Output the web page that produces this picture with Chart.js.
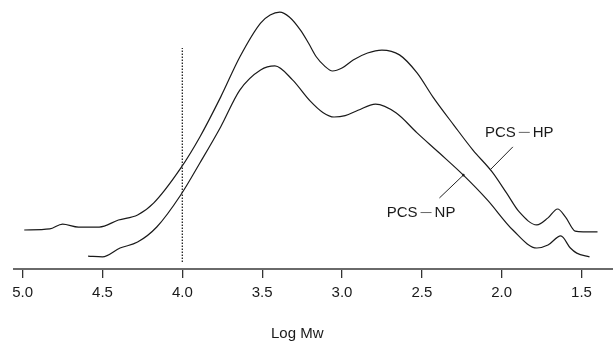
<!DOCTYPE html>
<html lang="en">
<head>
  <meta charset="UTF-8">
  <title>Log Mw distribution</title>
  <script src="https://cdn.jsdelivr.net/npm/chart.js"></script>
  <style>
    * { box-sizing: border-box; }
    body { margin: 0; background: #fff; font-family: "Liberation Sans", Arial, sans-serif; }
    .wrap { position: relative; width: 613px; height: 341px; }
  </style>
</head>
<body>
  <div class="wrap"><canvas id="chart"></canvas></div>

  <script>
    // Log Mw positions and detector response (arbitrary units, 0-100)
    const hpLogMw = [4.99, 4.83, 4.75, 4.65, 4.52, 4.40, 4.28, 4.18, 4.01, 3.89, 3.76, 3.64, 3.51, 3.45, 3.39, 3.33, 3.26, 3.21, 3.16, 3.11, 3.06, 3.00, 2.93, 2.84, 2.75, 2.64, 2.53, 2.43, 2.30, 2.18, 2.06, 1.97, 1.89, 1.78, 1.71, 1.65, 1.60, 1.54, 1.49, 1.40];
    const hpSignal = [14.5, 14.9, 16.7, 15.6, 15.6, 18.2, 20.1, 24.5, 37.5, 49.1, 63.9, 78.8, 91.4, 94.4, 95.5, 93.7, 88.8, 84.0, 78.8, 75.5, 73.6, 74.7, 77.7, 80.3, 81.4, 79.6, 72.9, 63.9, 53.5, 44.2, 36.1, 28.3, 21.2, 16.4, 19.0, 22.3, 19.3, 14.1, 13.8, 13.8];

    const npLogMw = [4.59, 4.50, 4.39, 4.28, 4.16, 4.01, 3.89, 3.76, 3.64, 3.51, 3.42, 3.31, 3.20, 3.12, 3.05, 2.98, 2.90, 2.79, 2.66, 2.53, 2.39, 2.24, 2.09, 1.93, 1.78, 1.71, 1.63, 1.57, 1.53, 1.45];
    const npSignal = [4.8, 4.5, 7.8, 10.0, 15.6, 27.5, 39.4, 52.8, 66.5, 74.0, 75.5, 70.3, 62.5, 58.2, 56.5, 57.0, 59.0, 61.3, 58.0, 50.6, 43.1, 34.9, 25.7, 14.5, 7.8, 8.9, 12.3, 7.8, 5.9, 4.5];

    const cutoffLogMw = 4.0;
    const cutoffRange = [2.6, 82.2];

    const xTicks = [5.0, 4.5, 4.0, 3.5, 3.0, 2.5, 2.0, 1.5];
    const xTitle = 'Log Mw';
    const seriesNames = ['PCS', 'HP', 'NP'];

    // callouts: text anchor and leader line, in data units
    const callouts = [
      { left: seriesNames[0], right: seriesNames[1], x: 2.105, y: 50.6, from: [1.93, 45.4], to: [2.07, 37.0] },
      { left: seriesNames[0], right: seriesNames[2], x: 2.72, y: 20.8, from: [2.39, 26.4], to: [2.24, 34.9], dot: true }
    ];

    const FONT = '"Liberation Sans", Arial, sans-serif';
    const toPts = (xs, ys) => xs.map((x, i) => ({ x, y: ys[i] }));

    const calloutPlugin = {
      id: 'callouts',
      afterDatasetsDraw(chart) {
        const { ctx, chartArea, scales: { x, y } } = chart;
        ctx.save();
        ctx.font = '15px ' + FONT;
        ctx.textBaseline = 'middle';
        ctx.fillStyle = '#1a1a1a';
        callouts.forEach(c => {
          // leader line
          ctx.strokeStyle = '#222';
          ctx.lineWidth = 1;
          ctx.beginPath();
          ctx.moveTo(x.getPixelForValue(c.from[0]), y.getPixelForValue(c.from[1]));
          ctx.lineTo(x.getPixelForValue(c.to[0]), y.getPixelForValue(c.to[1]));
          ctx.stroke();
          if (c.dot) {
            ctx.beginPath();
            ctx.arc(x.getPixelForValue(c.to[0]), y.getPixelForValue(c.to[1]), 1.3, 0, Math.PI * 2);
            ctx.fill();
          }
          // text: PCS - XX with a thin dash
          let px = x.getPixelForValue(c.x);
          const py = y.getPixelForValue(c.y);
          ctx.textAlign = 'left';
          ctx.fillText(c.left, px, py);
          px += ctx.measureText(c.left).width + 3;
          ctx.strokeStyle = '#666';
          ctx.beginPath();
          ctx.moveTo(px, py - 0.5);
          ctx.lineTo(px + 11, py - 0.5);
          ctx.stroke();
          px += 14;
          ctx.fillText(c.right, px, py);
        });
        // axis title, sits a bit left of the axis centre
        ctx.textAlign = 'center';
        ctx.textBaseline = 'alphabetic';
        ctx.fillText(xTitle, x.getPixelForValue(3.28), chartArea.bottom + 69);
        ctx.restore();
      }
    };

    new Chart(document.getElementById('chart'), {
      type: 'line',
      data: {
        datasets: [
          { label: 'PCS-HP', data: toPts(hpLogMw, hpSignal), borderColor: '#1a1a1a', borderWidth: 1.2, pointRadius: 0, cubicInterpolationMode: 'monotone', fill: false },
          { label: 'PCS-NP', data: toPts(npLogMw, npSignal), borderColor: '#1a1a1a', borderWidth: 1.2, pointRadius: 0, cubicInterpolationMode: 'monotone', fill: false },
          { label: 'cutoff', data: cutoffRange.map(v => ({ x: cutoffLogMw, y: v })), borderColor: '#222', borderWidth: 1.3, borderDash: [1.5, 1.5], pointRadius: 0, fill: false }
        ]
      },
      options: {
        responsive: true,
        maintainAspectRatio: false,
        animation: false,
        layout: { padding: { left: 14, right: 0, top: 0, bottom: 33 } },
        plugins: { legend: { display: false }, tooltip: { enabled: false } },
        scales: {
          x: {
            type: 'linear',
            reverse: true,
            min: 1.303,
            max: 5.054,
            afterBuildTicks: s => { s.ticks = xTicks.map(v => ({ value: v })); },
            border: { display: true, color: '#6a6a6a', width: 2 },
            grid: { display: true, drawOnChartArea: false, drawTicks: true, tickLength: 9, tickColor: '#333', lineWidth: 1.3 },
            ticks: {
              color: '#1a1a1a',
              padding: 6,
              maxRotation: 0,
              font: { family: FONT, size: 15 },
              callback: v => Number(v).toFixed(1)
            }
          },
          y: { display: false, min: 0, max: 100 }
        }
      },
      plugins: [calloutPlugin]
    });
  </script>
</body>
</html>
